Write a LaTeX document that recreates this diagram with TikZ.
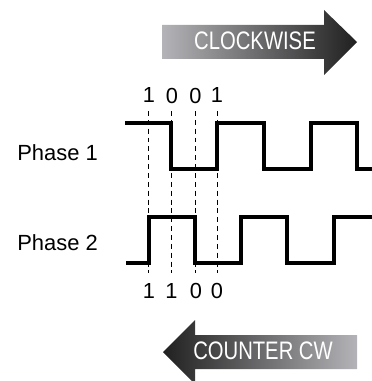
\documentclass[tikz,border=0pt]{standalone}
\usepackage{fontspec}
\setmainfont{Liberation Sans}
\usepackage{xcolor}
\usetikzlibrary{backgrounds}
\definecolor{arrowlight}{HTML}{B4B4B8}
\definecolor{arrowmid}{HTML}{5C5C5E}
\definecolor{arrowdark}{HTML}{202020}

\begin{document}
\begin{tikzpicture}[x=0.025cm,y=-0.025cm,
    wave/.style={line width=2.35pt,line join=miter,draw=black},
    tick/.style={draw=black,line width=0.6pt,dash pattern=on 3.5pt off 2.8pt},
    bit/.style={inner sep=0pt,font=\fontsize{15.5}{18}\selectfont},
    phaselabel/.style={inner sep=0pt,anchor=west,font=\fontsize{15.6}{18}\selectfont},
    arrowtext/.style={inner sep=0pt,text=white,xscale=0.8,font=\fontsize{18}{21}\selectfont}]
      \useasboundingbox (0,0) rectangle (372,381);
      %\draw[help lines,step=20] (0,0) grid (372,381); % Only for Development

      % clockwise arrow
      \shade[left color=arrowlight,middle color=arrowmid,right color=arrowdark]
        (162,25) -- (324,25) -- (324,10) -- (357,42) --
        (324,75) -- (324,59) -- (162,59) -- cycle;
      \node[arrowtext] (cwtext) at (255,40.5) {CLOCKWISE};

      % counter clockwise arrow
      \shade[left color=arrowdark,middle color=arrowmid,right color=arrowlight]
        (357,335) -- (195,335) -- (195,320) -- (163,352) --
        (195,384) -- (195,369) -- (357,369) -- cycle;
      \node[arrowtext] (ccwtext) at (263,350.5) {COUNTER CW};

      % phase labels
      \node[phaselabel] (phaseone) at (17,153) {Phase 1};
      \node[phaselabel] (phasetwo) at (17,243) {Phase 2};

      % dashed markers
      \draw[tick] (148,111) -- (148,273);
      \draw[tick] (171,111) -- (171,273);
      \draw[tick] (195,111) -- (195,273);
      \draw[tick] (217,111) -- (217,273);

      % bits on top (phase 1)
      \node[bit] (topa) at (149,95.5) {1};
      \node[bit] (topb) at (172,95.5) {0};
      \node[bit] (topc) at (195.5,95.5) {0};
      \node[bit] (topd) at (217,95.5) {1};

      % bits at bottom (phase 2)
      \node[bit] (bota) at (149,291) {1};
      \node[bit] (botb) at (171.5,291) {1};
      \node[bit] (botc) at (196,291) {0};
      \node[bit] (botd) at (217,291) {0};

      % phase 1 signal
      \draw[wave]
        (125,123) -- (171,123) -- (171,169) -- (217,169) --
        (217,123) -- (264,123) -- (264,169) -- (311,169) --
        (311,123) -- (357,123) -- (357,169) -- (373,169);

      % phase 2 signal
      \draw[wave]
        (126,263) -- (149,263) -- (149,217) -- (195,217) --
        (195,263) -- (241,263) -- (241,217) -- (287,217) --
        (287,263) -- (334,263) -- (334,217) -- (373,217);

    \end{tikzpicture}
\end{document}
